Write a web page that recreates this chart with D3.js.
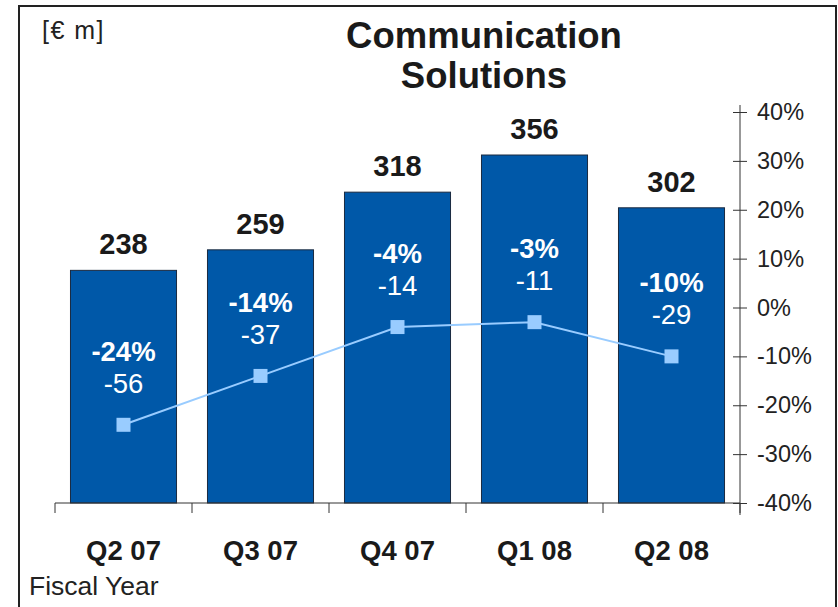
<!DOCTYPE html>
<html>
<head>
<meta charset="utf-8">
<script src="https://cdn.jsdelivr.net/npm/d3@7"></script>
<style>
  body { margin: 0; background: #fff; }
  svg { display: block; font-family: "Liberation Sans", Arial, sans-serif; }
</style>
</head>
<body>
<script>
const quarters = ['Q2 07', 'Q3 07', 'Q4 07', 'Q1 08', 'Q2 08']
const revenue = [238, 259, 318, 356, 302]
const changePct = [-24, -14, -4, -3, -10]
const changeAbs = [-56, -37, -14, -11, -29]
const pctTicks = [40, 30, 20, 10, 0, -10, -20, -30, -40]

const W = 838, H = 607
const svg = d3.select('body').append('svg').attr('width', W).attr('height', H)

// frame
svg.append('rect')
  .attr('x', 19).attr('y', 6).attr('width', 817).attr('height', 620)
  .attr('fill', 'none').attr('stroke', '#222').attr('stroke-width', 2)

const x = d3.scaleBand().domain(quarters).range([55, 740]).paddingInner(0.226).paddingOuter(0.113)
const yBar = d3.scaleLinear().domain([0, 400]).range([503, 112])
const yPct = d3.scaleLinear().domain([-40, 40]).range([503, 112])

// bars
svg.append('g').selectAll('rect').data(revenue).join('rect')
  .attr('x', (d, i) => x(quarters[i]))
  .attr('y', d => yBar(d))
  .attr('width', x.bandwidth())
  .attr('height', d => yBar(0) - yBar(d))
  .attr('fill', '#0058a8')
  .attr('stroke', '#1a2a40').attr('stroke-width', 1)

// x axis line with ticks between categories
const step = x.step()
const xa = svg.append('g')
xa.append('line').attr('x1', 55).attr('x2', 740).attr('y1', 503).attr('y2', 503)
  .attr('stroke', '#333').attr('stroke-width', 1)
xa.selectAll('line.t').data(d3.range(quarters.length + 1)).join('line').attr('class', 't')
  .attr('x1', i => 55 + i * step).attr('x2', i => 55 + i * step)
  .attr('y1', 503).attr('y2', 513)
  .attr('stroke', '#333')

// right percent axis
const ra = svg.append('g').attr('transform', 'translate(740,0)')
  .call(d3.axisRight(yPct).tickValues(pctTicks).tickSize(7).tickFormat(d => d + '%'))
ra.select('.domain').attr('stroke', '#333').attr('d', 'M0,105V515')
ra.selectAll('.tick line').attr('x1', -7).attr('x2', 7).attr('stroke', '#333')
ra.selectAll('.tick text').attr('x', 17).attr('font-size', 23.5)
  .attr('font-family', '"Liberation Sans", Arial, sans-serif').attr('fill', '#222')

// category labels
svg.append('g').selectAll('text').data(quarters).join('text')
  .attr('x', d => x(d) + x.bandwidth() / 2).attr('y', 560)
  .attr('text-anchor', 'middle').attr('font-size', 27.5).attr('font-weight', 'bold')
  .attr('fill', '#1a1a1a').text(d => d)

// revenue labels
svg.append('g').selectAll('text').data(revenue).join('text')
  .attr('x', (d, i) => x(quarters[i]) + x.bandwidth() / 2)
  .attr('y', d => yBar(d) - 16)
  .attr('text-anchor', 'middle').attr('font-size', 29).attr('font-weight', 'bold')
  .attr('fill', '#1a1a1a').text(d => d)

// line series
const cx = i => x(quarters[i]) + x.bandwidth() / 2
svg.append('path')
  .attr('d', d3.line().x((d, i) => cx(i)).y(d => yPct(d))(changePct))
  .attr('fill', 'none').attr('stroke', '#99ccff').attr('stroke-width', 2)
svg.append('g').selectAll('rect').data(changePct).join('rect')
  .attr('x', (d, i) => cx(i) - 7).attr('y', d => yPct(d) - 7)
  .attr('width', 14).attr('height', 14).attr('fill', '#99ccff')

// labels inside bars
svg.append('g').selectAll('text').data(changePct).join('text')
  .attr('x', (d, i) => cx(i)).attr('y', d => yPct(d) - 64)
  .attr('text-anchor', 'middle').attr('font-size', 27.5).attr('font-weight', 'bold')
  .attr('fill', '#fff').text(d => d + '%')
svg.append('g').selectAll('text').data(changeAbs).join('text')
  .attr('x', (d, i) => cx(i)).attr('y', (d, i) => yPct(changePct[i]) - 32)
  .attr('text-anchor', 'middle').attr('font-size', 27.5)
  .attr('fill', '#fff').text(d => d)

// titles
svg.append('text').attr('x', 484).attr('y', 48).attr('text-anchor', 'middle')
  .attr('font-size', 36.5).attr('font-weight', 'bold').attr('fill', '#1a1a1a').text('Communication')
svg.append('text').attr('x', 484).attr('y', 88).attr('text-anchor', 'middle')
  .attr('font-size', 36.5).attr('font-weight', 'bold').attr('fill', '#1a1a1a').text('Solutions')
svg.append('text').attr('x', 42).attr('y', 39).attr('font-size', 25).attr('letter-spacing', 1.5)
  .attr('fill', '#222').text('[€ m]')
svg.append('text').attr('x', 29).attr('y', 595).attr('font-size', 26.5).attr('fill', '#222').text('Fiscal Year')
</script>
</body>
</html>
